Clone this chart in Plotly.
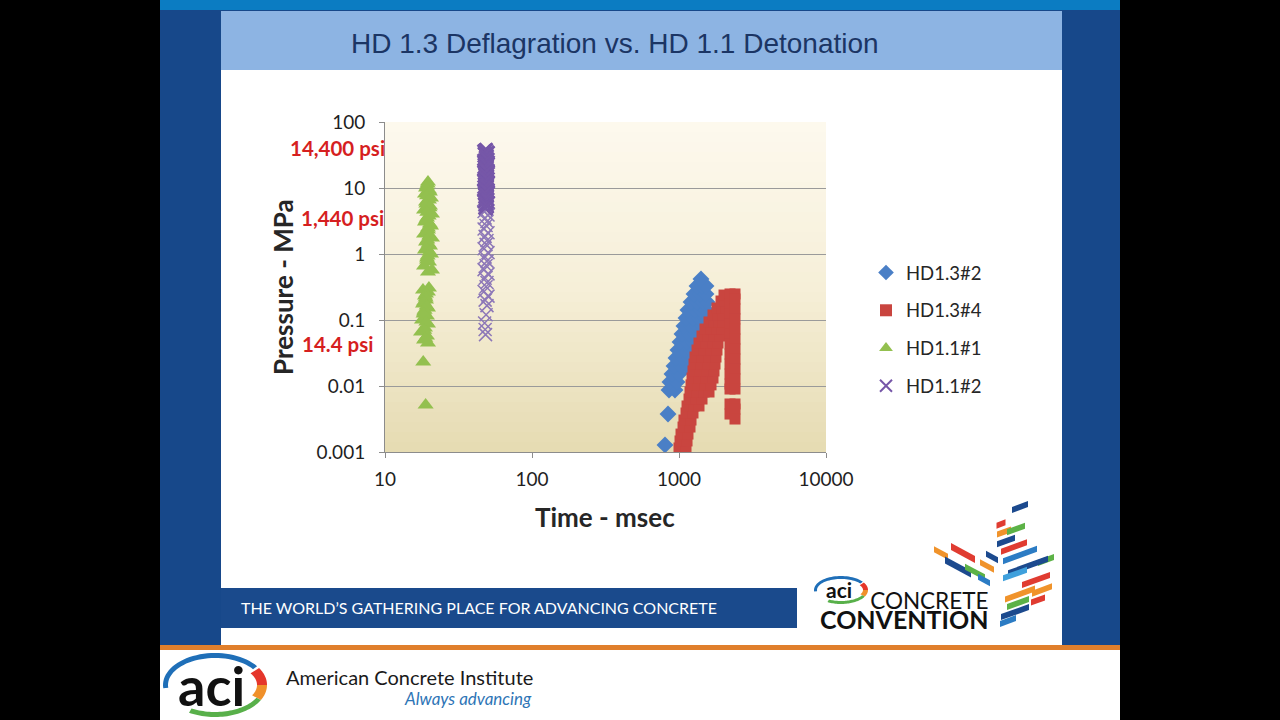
import math
import plotly.graph_objects as go

W, H = 1280, 720

# ---------------- data ----------------
series_names = ["HD1.3#2", "HD1.3#4", "HD1.1#1", "HD1.1#2"]

# HD1.3#2 : time (msec) / pressure (MPa)
hd13_2_time = [803, 842,
               855, 939, 868, 969, 896, 1000,
               925, 1032, 1134, 954, 1065, 1170, 984, 1099, 1207, 1016, 1134, 1245, 1048, 1170, 1285,
               1081, 1207, 1326, 1456, 1116, 1245, 1368, 1503, 1151, 1285, 1411, 1526, 1207, 1326, 1456, 1551,
               1265, 1390, 1526, 1326, 1434, 1526, 1411,
               1479, 1503]
hd13_2_pressure = [0.00128, 0.00376,
                   0.0087, 0.0087, 0.0115, 0.0115, 0.0152, 0.0152,
                   0.0201, 0.0201, 0.0201, 0.0266, 0.0266, 0.0266, 0.0351, 0.0351, 0.0351, 0.0464, 0.0464, 0.0464, 0.0614, 0.0614, 0.0614,
                   0.0811, 0.0811, 0.0811, 0.0811, 0.107, 0.107, 0.107, 0.107, 0.142, 0.142, 0.142, 0.142, 0.187, 0.187, 0.187, 0.187,
                   0.248, 0.248, 0.248, 0.328, 0.328, 0.328, 0.418,
                   0.0448, 0.0614]

# HD1.3#4
hd13_4_time = [1000, 1116,
               1016, 1134,
               1032, 1151,
               1065, 1188,
               1081, 1207,
               1116, 1245,
               1134, 1265, 1368,
               1170, 1305, 1434,
               1188, 1326, 1479, 1600,
               1207, 1347, 1503, 1651,
               1226, 1368, 1526, 1703,
               1245, 1390, 1551, 1730,
               1265, 1411, 1575, 1758,
               1285, 1434, 1600, 1785,
               1326, 1479, 1651, 1813,
               1368, 1526, 1703, 1842,
               1434, 1575, 1730, 1901,
               1503, 1651, 1813, 1961,
               1600, 1730, 1871, 1992,
               1703, 1842, 1992,
               1813, 1961, 2088,
               1931, 2056,
               2024,
               2223, 2223, 2223, 2223, 2223, 2223, 2223, 2223, 2223, 2223, 2223, 2223, 2223,
               2404, 2404, 2404, 2404, 2404, 2404, 2404, 2404, 2404, 2404, 2404, 2404, 2404, 2404]
hd13_4_pressure = [0.00115, 0.00115,
                   0.00147, 0.00147,
                   0.00187, 0.00187,
                   0.00239, 0.00239,
                   0.00305, 0.00305,
                   0.0039, 0.0039,
                   0.00498, 0.00498, 0.00498,
                   0.00635, 0.00635, 0.00635,
                   0.00811, 0.00811, 0.00811, 0.00811,
                   0.0104, 0.0104, 0.0104, 0.0104,
                   0.0132, 0.0132, 0.0132, 0.0132,
                   0.0169, 0.0169, 0.0169, 0.0169,
                   0.0215, 0.0215, 0.0215, 0.0215,
                   0.0275, 0.0275, 0.0275, 0.0275,
                   0.0351, 0.0351, 0.0351, 0.0351,
                   0.0448, 0.0448, 0.0448, 0.0448,
                   0.0572, 0.0572, 0.0572, 0.0572,
                   0.073, 0.073, 0.073, 0.073,
                   0.0933, 0.0933, 0.0933, 0.0933,
                   0.119, 0.119, 0.119,
                   0.152, 0.152, 0.152,
                   0.194, 0.194,
                   0.239,
                   0.248, 0.175, 0.123, 0.087, 0.0614, 0.0433, 0.0305, 0.0215, 0.0152, 0.0107, 0.009, 0.00534, 0.00376,
                   0.248, 0.208, 0.147, 0.104, 0.073, 0.0515, 0.0364, 0.0256, 0.0181, 0.0128, 0.009, 0.00534, 0.00448, 0.00316]

# HD1.1#1
hd11_1_time = [19.61, 19.31, 19.92, 18.71, 20.56, 19.0, 20.24, 18.42, 20.88, 19.31, 18.71, 20.56,
               19.61, 18.42, 20.88, 19.0, 20.24, 18.71, 20.56, 19.31, 19.92, 18.42, 20.88, 19.61,
               19.5, 19.0, 20.2, 19.3, 19.9, 19.1, 20.1, 19.4, 19.8, 19.0, 20.2, 19.6, 19.2, 20.0,
               19.4, 19.8, 19.1, 20.1, 19.5, 19.3, 19.9, 19.6,
               18.71, 19.0, 18.13, 19.61, 18.42, 19.31, 17.85, 19.61, 18.71, 17.58, 19.31, 18.42, 19.61, 18.13, 19.0,
               18.9, 18.4, 19.2, 18.6, 18.3, 19.1, 18.5, 18.8, 18.2, 18.9,
               18.13, 18.13]
hd11_1_pressure = [12.3, 10.7, 9.33, 8.11, 7.05, 6.14, 5.34, 4.64, 4.04, 3.51, 3.05, 2.66,
                   2.31, 2.01, 1.75, 1.52, 1.32, 1.15, 1.0, 0.87, 0.757, 0.658, 0.572, 0.534,
                   11.5, 10.0, 8.7, 7.6, 6.6, 5.7, 5.0, 4.3, 3.75, 3.27, 2.85, 2.48,
                   2.16, 1.88, 1.63, 1.42, 1.23, 1.07, 0.93, 0.81,
                   0.305, 0.266, 0.231, 0.201, 0.175, 0.152, 0.132, 0.115, 0.1, 0.087, 0.0756, 0.0658, 0.0572, 0.0498, 0.0448,
                   0.285, 0.248, 0.215, 0.188, 0.163, 0.141, 0.123, 0.093, 0.07, 0.053,
                   0.0231, 0.00515]

# HD1.1#2
hd11_2_time = [48.7, 47.2, 50.2, 48.0, 49.4,
               48.7, 47.2, 50.2, 48.0, 49.4,
               48.7, 47.2, 50.2, 48.0, 49.4,
               48.7, 47.2, 50.2, 48.0, 49.4,
               48.7, 47.2, 50.2, 48.0, 49.4,
               48.7, 47.2, 50.2, 48.0, 49.4,
               48.7, 47.2, 50.2, 48.0, 49.4,
               48.7, 47.2, 50.2, 48.0, 49.4,
               48.7, 47.2, 50.2, 48.0, 49.4,
               48.7, 47.2, 50.2, 48.0, 49.4,
               48.7, 47.2, 50.2, 48.0, 49.4,
               48.7, 47.6, 48.0, 48.3,
               48.0, 49.7, 47.5, 49.0, 48.4, 50.0, 47.8, 48.9, 49.5, 47.4,
               48.2, 49.8, 47.6, 49.1, 48.5, 50.1, 47.9, 48.8, 49.4, 47.3,
               48.1, 49.6, 47.7, 49.2, 48.6, 49.9, 47.5, 48.9, 49.3, 48.0]
hd11_2_pressure = [38, 36, 34, 32, 30, 28, 26, 24.5, 23, 21.5, 20, 18.7, 17.5, 16.3, 15.2, 14.2,
                   13.2, 12.3, 11.5, 10.7, 10, 9.3, 8.7, 8.1, 7.5, 7.0, 6.5, 6.0, 5.6, 5.2, 4.8,
                   4.4, 3.9, 3.5, 3.1, 2.7, 2.4, 2.1, 1.85, 1.6, 1.4, 1.2, 1.05, 0.9, 0.78, 0.67,
                   0.58, 0.5, 0.43, 0.37, 0.32, 0.27, 0.23, 0.2,
                   0.165, 0.12, 0.09, 0.072, 0.06,
                   37, 35, 33, 31, 29, 27, 25.2, 23.7, 22.2, 20.7,
                   19.3, 18.1, 16.9, 15.7, 14.7, 13.7, 12.7, 11.9, 11.1, 10.3,
                   9.6, 9.0, 8.4, 7.8, 7.2, 6.7, 6.2, 5.8, 5.4, 5.0]

x_tick_vals = [10, 100, 1000, 10000]
x_tick_text = ["10", "100", "1000", "10000"]
y_tick_vals = [0.001, 0.01, 0.1, 1, 10, 100]
y_tick_text = ["0.001", "0.01", "0.1", "1", "10", "100"]
psi_labels = ["14,400 psi", "1,440 psi", "14.4 psi"]

title_text = "HD 1.3 Deflagration vs. HD 1.1 Detonation"
x_title = "Time - msec"
y_title = "Pressure - MPa"
banner_text = "THE WORLD\u2019S GATHERING PLACE FOR ADVANCING CONCRETE"

# ---------------- helpers (pixel -> paper) ----------------
def px_x(px):
    return px / W


def px_y(py):
    return 1 - py / H


def rect(x0, y0, x1, y1, color, layer="below"):
    return dict(type="rect", xref="paper", yref="paper",
                x0=px_x(x0), x1=px_x(x1), y0=px_y(y1), y1=px_y(y0),
                fillcolor=color, line=dict(width=0), layer=layer)


def poly(pts, color, layer="above"):
    path = "M " + " L ".join(f"{px_x(x):.5f},{px_y(y):.5f}" for x, y in pts) + " Z"
    return dict(type="path", xref="paper", yref="paper", path=path,
                fillcolor=color, line=dict(width=0), layer=layer)


def ring(cx, cy, rx, ry, th, a0, a1, color, n=36):
    outer, inner = [], []
    for i in range(n + 1):
        a = math.radians(a0 + (a1 - a0) * i / n)
        outer.append((cx + rx * math.cos(a), cy - ry * math.sin(a)))
        inner.append((cx + (rx - th) * math.cos(a), cy - (ry - th) * math.sin(a)))
    return poly(outer + inner[::-1], color)


def bar(cx, cy, L, T, ang, color):
    t = math.tan(math.radians(ang)) * L / 2
    pts = [(cx - L / 2, cy + t - T / 2), (cx + L / 2, cy - t - T / 2),
           (cx + L / 2, cy - t + T / 2), (cx - L / 2, cy + t + T / 2)]
    return poly(pts, color)


def label(s, px, py, size, color, family="Lato", weight="normal", xanchor="center",
          yanchor="middle", angle=0, style="normal", align="center"):
    return dict(text=s, x=px_x(px), y=px_y(py), xref="paper", yref="paper",
                showarrow=False, xanchor=xanchor, yanchor=yanchor, textangle=angle,
                borderpad=0, align=align,
                font=dict(size=size, color=color, family=family, weight=weight, style=style))


# ---------------- figure ----------------
fig = go.Figure()

# styling of the HD1.1#2 crosses: heavy where the trace is densely packed, lighter below
purple_line_w = [2.6 if p > 4.5 else 1.5 for p in hd11_2_pressure]
purple_colors = ["#7657a8" if p > 4.5 else "#8d78b8" for p in hd11_2_pressure]

fig.add_trace(go.Scatter(x=hd13_2_time, y=hd13_2_pressure, mode="markers", name=series_names[0],
                         legendgroup="a",
                         marker=dict(symbol="diamond", size=13, color="#4a7fc6", line=dict(width=0))))
fig.add_trace(go.Scatter(x=hd13_4_time, y=hd13_4_pressure, mode="markers", name=series_names[1],
                         legendgroup="b",
                         marker=dict(symbol="square", size=11, color="#c9453f", line=dict(width=0))))
fig.add_trace(go.Scatter(x=hd11_1_time, y=hd11_1_pressure, mode="markers", name=series_names[2],
                         legendgroup="c",
                         marker=dict(symbol="triangle-up", size=14, color="#93c04f", line=dict(width=0))))
fig.add_trace(go.Scatter(x=hd11_2_time, y=hd11_2_pressure, mode="markers", name=series_names[3],
                         legendgroup="d",
                         marker=dict(symbol="x-thin", size=13, color=purple_colors,
                                     line=dict(width=purple_line_w, color=purple_colors))))

shapes = []
# slide frame
shapes.append(rect(160, 0, 1120, 720, "#17488a"))
shapes.append(rect(160, 0, 1120, 10, "#0b7cc2"))
shapes.append(rect(221, 11, 1062, 645, "#ffffff"))
shapes.append(rect(221, 11, 1062, 70, "#8db4e3"))
shapes.append(rect(160, 645, 1120, 720, "#ffffff"))
shapes.append(rect(160, 645, 1120, 650, "#e07f2c"))
shapes.append(rect(221, 588, 797, 628, "#1a4a8c"))

# plot-area gradient
top_c, mid_c, bot_c = (253, 249, 238), (246, 239, 216), (230, 219, 178)
n_strips = 33
for i in range(n_strips):
    t = (i + 0.5) / n_strips
    if t < 0.5:
        a, b, f = top_c, mid_c, t / 0.5
    else:
        a, b, f = mid_c, bot_c, (t - 0.5) / 0.5
    c = tuple(round(a[k] + (b[k] - a[k]) * f) for k in range(3))
    y0 = 122 + (452 - 122) * i / n_strips
    y1 = 122 + (452 - 122) * (i + 1) / n_strips + 0.6
    shapes.append(rect(385, y0, 826, y1, f"rgb{c}"))

# footer ACI logo
shapes.append(ring(215, 685, 52, 32, 5, 36, 186, "#1f6fb8"))
shapes.append(ring(215, 685, 52, 32, 10, 32, 0, "#e5362b"))
shapes.append(ring(215, 685, 52, 32, 10, 0, -28, "#f0902a"))
shapes.append(ring(215, 685, 52, 32, 5, -28, -120, "#58b04a"))
# convention small logo
shapes.append(ring(841, 590, 27, 14, 3, 36, 186, "#1f6fb8"))
shapes.append(ring(841, 590, 27, 14, 5, 32, 0, "#e5362b"))
shapes.append(ring(841, 590, 27, 14, 5, 0, -28, "#f0902a"))
shapes.append(ring(841, 590, 27, 14, 3, -28, -120, "#58b04a"))

navy, red, orange, green, blue, lblue = "#1c4a8e", "#e03c31", "#f0932b", "#5cb247", "#2c7cc4", "#3fa0dc"
mosaic = [
    (1020, 507, 16, 6, 20, navy), (1001, 524, 9, 6, 20, red), (1004, 532, 14, 6, 20, orange),
    (1016, 529, 18, 6, 20, green), (1006, 541, 18, 6, 20, navy), (1014, 547, 26, 6, 20, red),
    (1020, 555, 34, 6, 20, blue), (1046, 560, 16, 6, 20, green), (1028, 566, 40, 6, 20, navy),
    (1015, 574, 24, 6, 20, lblue), (1036, 580, 28, 6, 20, red), (1042, 590, 20, 6, 20, orange),
    (1020, 594, 30, 6, 20, orange), (1018, 603, 22, 6, 20, green), (1038, 600, 14, 6, 20, red),
    (1015, 612, 28, 6, 20, navy), (1008, 621, 16, 6, 20, blue),
    (941, 553, 14, 6, -28, orange), (963, 553, 24, 7, -28, red), (958, 567, 26, 7, -28, navy),
    (975, 572, 20, 6, -28, green), (987, 566, 14, 6, -28, orange), (984, 580, 12, 6, -28, blue),
    (992, 557, 12, 6, -28, navy),
]
for m in mosaic:
    shapes.append(bar(*m))

convention_text = ("<span style='font-size:22.5px'>CONCRETE</span><br>"
                   "<b><span style='font-size:25px'>CONVENTION</span></b>")

annotations = [
    label(title_text, 615, 43, 28, "#1b3564", family="Liberation Sans Narrow, Arial Narrow, Liberation Sans"),
    label(y_title, 283, 287, 26, "#262626", weight="bold", angle=-90),
    label(x_title, 605, 517, 26, "#262626", weight="bold"),
    label(psi_labels[0], 386, 148, 20.5, "#d61f1f", weight="bold", xanchor="right"),
    label(psi_labels[1], 385, 218, 20.5, "#d61f1f", weight="bold", xanchor="right"),
    label(psi_labels[2], 374, 344, 20.5, "#d61f1f", weight="bold", xanchor="right"),
    label(banner_text, 240, 607, 16, "#ffffff", xanchor="left"),
    label("aci", 211, 685, 54, "#111111", weight="bold"),
    label("aci", 839, 589, 21, "#111111", weight="bold"),
    label(convention_text, 990, 610, 15, "#111111", xanchor="right", align="right"),
    label("American Concrete Institute", 285, 677, 20, "#1a1a1a", xanchor="left"),
    label("Always advancing", 533, 698, 17, "#2e75b6", xanchor="right", style="italic"),
]

tick_font = dict(family="Lato", size=19, color="#1f1f1f")
fig.update_layout(
    width=W, height=H, autosize=False,
    margin=dict(l=0, r=0, t=0, b=0, pad=0, autoexpand=False),
    paper_bgcolor="#000000", plot_bgcolor="rgba(0,0,0,0)",
    shapes=shapes, annotations=annotations,
    showlegend=True,
    legend=dict(x=px_x(866), y=px_y(254), xanchor="left", yanchor="top",
                bgcolor="rgba(0,0,0,0)", font=dict(family="Lato", size=18.5, color="#262626"),
                tracegroupgap=10.7, itemwidth=30, itemsizing="constant"),
    xaxis=dict(type="log", range=[1, 4], domain=[385 / W, 826 / W], automargin=False,
               tickvals=x_tick_vals, ticktext=x_tick_text, tickfont=tick_font,
               showgrid=False, zeroline=False, showline=True, linecolor="#8c8c8c", linewidth=1,
               ticks="outside", ticklen=5, tickcolor="#8c8c8c", ticklabelstandoff=5),
    yaxis=dict(type="log", range=[-3, 2], domain=[1 - 452 / H, 1 - 122 / H], automargin=False,
               tickvals=y_tick_vals, ticktext=y_tick_text, tickfont=tick_font,
               showgrid=True, gridcolor="#9a9a9a", gridwidth=1, zeroline=False,
               showline=True, linecolor="#8c8c8c", linewidth=1,
               ticks="outside", ticklen=5, tickcolor="#8c8c8c", ticklabelstandoff=10),
)

fig.write_html("out.html",
               post_script="document.body.style.margin='0';document.body.style.padding='0';"
                           "document.body.style.overflow='hidden';")
